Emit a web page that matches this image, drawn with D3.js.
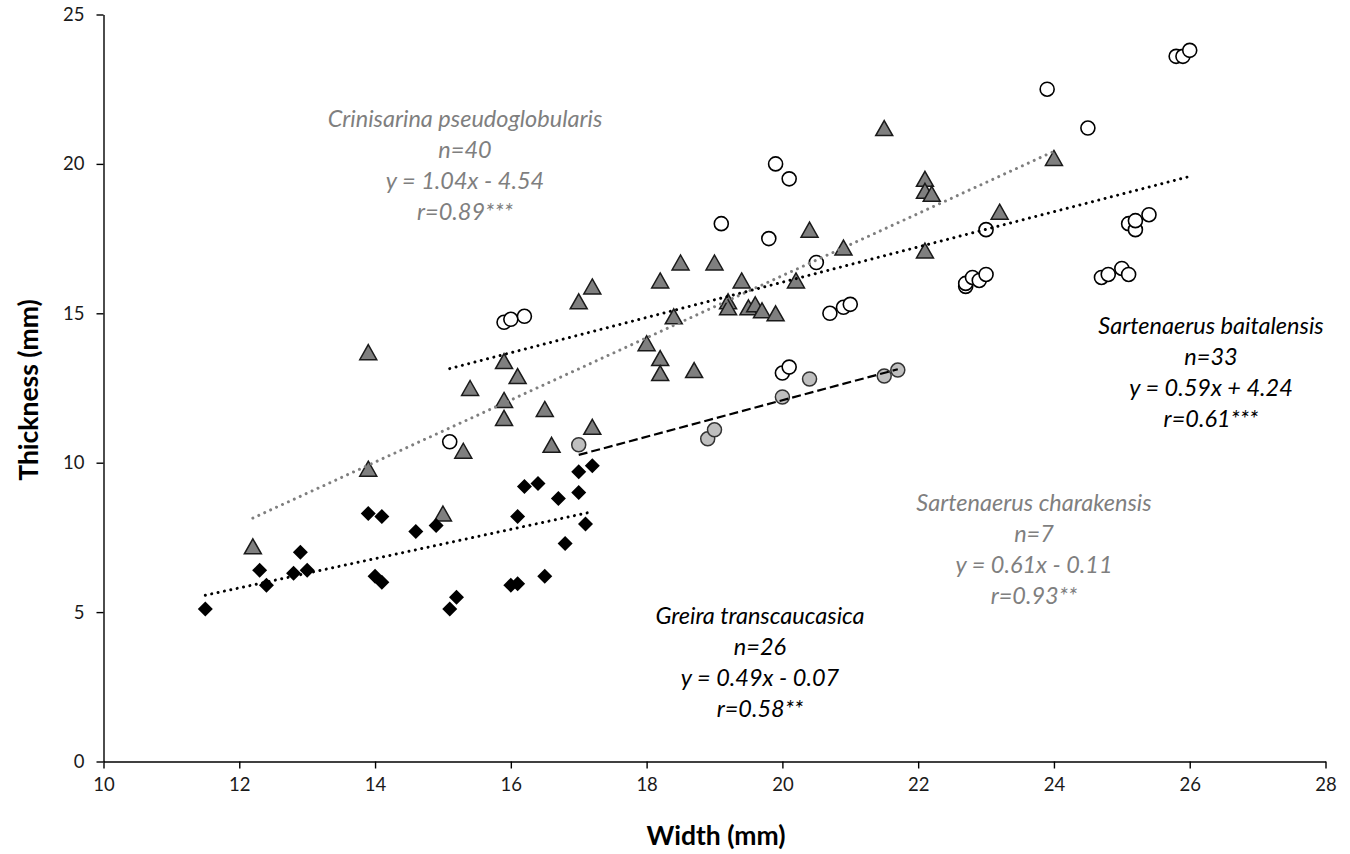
<!DOCTYPE html>
<html><head><meta charset="utf-8">
<script src="https://cdn.jsdelivr.net/npm/d3@7"></script>
<style>
body{margin:0;background:#fff;}
svg{display:block;font-family:Lato,"Open Sans",sans-serif;}
</style>
</head><body>
<svg id="chart" width="1350" height="854"></svg>
<script>
// ---- axis ticks ----
const xTicks = [10,12,14,16,18,20,22,24,26,28];
const yTicks = [0,5,10,15,20,25];

// ---- Greira transcaucasica (black diamonds) ----
const greiraWidth = [11.5,12.3,12.4,12.8,12.9,13.0,13.9,14.1,14.0,14.1,14.6,14.9,15.1,15.2,16.1,16.2,16.4,16.0,16.1,16.5,16.7,16.8,17.0,17.0,17.2,17.1];
const greiraThick = [5.1,6.4,5.9,6.3,7.0,6.4,8.3,8.2,6.2,6.0,7.7,7.9,5.1,5.5,8.2,9.2,9.3,5.9,5.95,6.2,8.8,7.3,9.0,9.7,9.9,7.95];

// ---- Crinisarina pseudoglobularis (grey triangles) ----
const crinWidth = [12.2,13.9,13.9,15.0,15.3,15.4,15.9,15.9,15.9,16.1,16.5,16.6,17.0,17.2,17.2,18.0,18.2,18.2,18.2,18.4,18.5,18.7,19.0,19.2,19.2,19.4,19.5,19.6,19.7,19.9,20.2,20.4,20.9,21.5,22.1,22.1,22.2,22.1,23.2,24.0];
const crinThick = [7.2,13.7,9.8,8.3,10.4,12.5,13.4,12.1,11.5,12.9,11.8,10.6,15.4,15.9,11.2,14.0,16.1,13.5,13.0,14.9,16.7,13.1,16.7,15.4,15.2,16.1,15.2,15.3,15.1,15.0,16.1,17.8,17.2,21.2,19.5,19.1,19.0,17.1,18.4,20.2];

// ---- Sartenaerus baitalensis (open circles) ----
const baitWidth = [15.1,15.9,16.0,16.2,19.1,19.8,19.9,20.1,20.0,20.1,20.5,20.7,20.9,21.0,22.7,22.7,22.8,22.9,23.0,23.0,23.9,24.5,24.7,24.8,25.0,25.1,25.1,25.2,25.2,25.4,25.8,25.9,26.0];
const baitThick = [10.7,14.7,14.8,14.9,18.0,17.5,20.0,19.5,13.0,13.2,16.7,15.0,15.2,15.3,15.9,16.0,16.2,16.1,16.3,17.8,22.5,21.2,16.2,16.3,16.5,16.3,18.0,17.8,18.1,18.3,23.6,23.6,23.8];

// ---- Sartenaerus charakensis (light grey circles) ----
const charWidth = [17.0,18.9,19.0,20.4,20.0,21.5,21.7];
const charThick = [10.6,10.8,11.1,12.8,12.2,12.9,13.1];

// ---- regression lines (from printed equations) ----
const trendSeries = ["crin","bait","greira","char"];
const trendSlope = [1.04,0.59,0.49,0.61];
const trendIntercept = [-4.54,4.24,-0.07,-0.11];
const trendXStart = [12.2,15.1,11.5,17.0];
const trendXEnd = [24.0,26.0,17.2,21.7];

// ---- annotation texts ----
const labelCrin = ["Crinisarina pseudoglobularis","n=40","y = 1.04x - 4.54","r=0.89***"];
const labelBait = ["Sartenaerus baitalensis","n=33","y = 0.59x + 4.24","r=0.61***"];
const labelChar = ["Sartenaerus charakensis","n=7","y = 0.61x - 0.11","r=0.93**"];
const labelGreira = ["Greira transcaucasica","n=26","y = 0.49x - 0.07","r=0.58**"];

const svg = d3.select("#chart");
const m = {left:103.5, right:1325.5, top:14.5, bottom:761.5};
const x = d3.scaleLinear().domain([10,28]).range([m.left,m.right]);
const y = d3.scaleLinear().domain([0,25]).range([m.bottom,m.top]);

// axes
const ax = svg.append("g").attr("transform",`translate(0,${m.bottom})`)
  .call(d3.axisBottom(x).tickValues(xTicks).tickSize(7).tickSizeOuter(0).tickPadding(9));
const ay = svg.append("g").attr("transform",`translate(${m.left},0)`)
  .call(d3.axisLeft(y).tickValues(yTicks).tickSize(7).tickSizeOuter(0).tickPadding(12));
[ax,ay].forEach(g=>{
  g.select(".domain").attr("stroke","#000").attr("stroke-width",1.4);
  g.selectAll(".tick line").attr("stroke","#000").attr("stroke-width",1.4);
  g.selectAll(".tick text").attr("font-size",18.5).attr("fill","#1a1a1a").attr("font-family","Lato, sans-serif");
});

// axis titles
svg.append("text").attr("x",716).attr("y",845).attr("text-anchor","middle")
  .attr("font-weight","bold").attr("font-size",26.5).text("Width (mm)");
svg.append("text").attr("transform","translate(38,390) rotate(-90)").attr("text-anchor","middle")
  .attr("font-weight","bold").attr("font-size",26.5).text("Thickness (mm)");

const zip = (a,b)=>a.map((v,i)=>({x:v,y:b[i]}));

// open circles (S. baitalensis)
svg.append("g").selectAll("circle").data(zip(baitWidth,baitThick)).join("circle")
  .attr("cx",d=>x(d.x)).attr("cy",d=>y(d.y)).attr("r",7)
  .attr("fill","#fff").attr("stroke","#000").attr("stroke-width",1.6);

// triangles (Crinisarina)
svg.append("g").selectAll("path").data(zip(crinWidth,crinThick)).join("path")
  .attr("transform",d=>`translate(${x(d.x)},${y(d.y)})`)
  .attr("d","M0,-7.5L8.5,7.5L-8.5,7.5Z")
  .attr("fill","#7f7f7f").attr("stroke","#1a1a1a").attr("stroke-width",1.5).attr("stroke-linejoin","miter");

// grey circles (S. charakensis)
svg.append("g").selectAll("circle").data(zip(charWidth,charThick)).join("circle")
  .attr("cx",d=>x(d.x)).attr("cy",d=>y(d.y)).attr("r",7)
  .attr("fill","#bfbfbf").attr("stroke","#333").attr("stroke-width",1.5);

// diamonds (Greira)
svg.append("g").selectAll("path").data(zip(greiraWidth,greiraThick)).join("path")
  .attr("transform",d=>`translate(${x(d.x)},${y(d.y)})`)
  .attr("d","M0,-7.5L7.5,0L0,7.5L-7.5,0Z")
  .attr("fill","#000");

// trend lines
const line = d3.line().x(d=>x(d[0])).y(d=>y(d[1]));
const trendStyle = {
  crin:{stroke:"#7f7f7f", width:3, dash:"0.01 6.5", cap:"round"},
  bait:{stroke:"#000", width:3, dash:"0.01 6.5", cap:"round"},
  greira:{stroke:"#000", width:3, dash:"0.01 6.5", cap:"round"},
  char:{stroke:"#000", width:2.2, dash:"9 4", cap:"butt"}
};
trendSeries.forEach((s,i)=>{
  const pts = [trendXStart[i],trendXEnd[i]].map(v=>[v,trendSlope[i]*v+trendIntercept[i]]);
  const st = trendStyle[s];
  svg.append("path").attr("d",line(pts)).attr("fill","none")
    .attr("stroke",st.stroke).attr("stroke-width",st.width)
    .attr("stroke-dasharray",st.dash).attr("stroke-linecap",st.cap);
});

// annotations
function annot(lines, cx, y0, color){
  const t = svg.append("text").attr("text-anchor","middle").attr("font-style","italic")
    .attr("font-size",23.5).attr("fill",color);
  lines.forEach((s,i)=>t.append("tspan").attr("x",cx).attr("y",y0+i*31).text(s));
}
annot(labelCrin, 465, 127, "#7f7f7f");
annot(labelBait, 1211, 334, "#000");
annot(labelChar, 1034, 511, "#7f7f7f");
annot(labelGreira, 760, 624, "#000");
</script>
</body></html>
